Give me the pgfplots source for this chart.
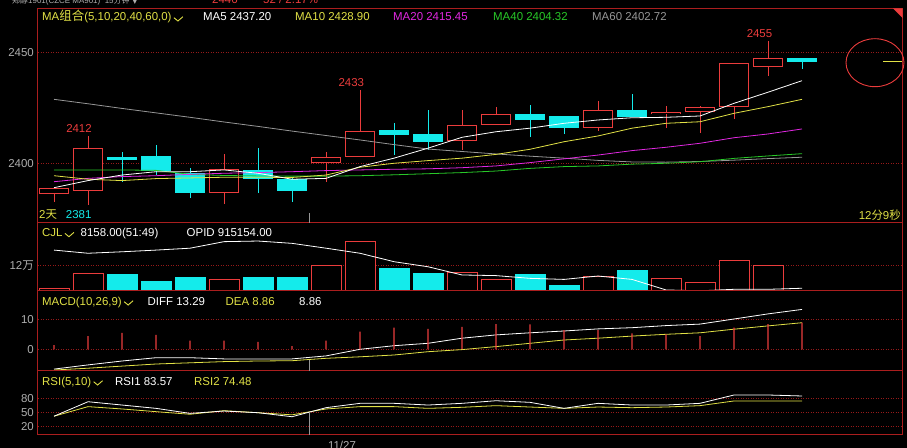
\documentclass[border=0pt]{standalone}
\usepackage{pgfplots}
\pgfplotsset{compat=1.18}
\usepackage{pgfplotstable}
\usepackage{fontspec}
\setmainfont{Liberation Sans}
\newfontfamily\cjk{Noto Sans CJK SC}
\newfontfamily\dejavu{DejaVu Sans}

\definecolor{cred}{RGB}{235,60,60}
\definecolor{ccyan}{RGB}{20,235,235}
\definecolor{cyel}{RGB}{225,225,70}
\definecolor{cmag}{RGB}{225,40,225}
\definecolor{cgrn}{RGB}{40,200,40}
\definecolor{cgray}{RGB}{150,150,150}
\definecolor{frame}{RGB}{170,30,30}
\definecolor{gridred}{RGB}{150,25,25}
\definecolor{ticktxt}{RGB}{175,175,175}

\newcommand\hdr{\fontsize{11.5}{13}\selectfont}
\newcommand\chk{\tikz[baseline=0pt]\draw[line width=0.9bp] (0,3.3bp)--(4bp,0bp)--(9bp,4.3bp);}

% candles as (x, middle, half range): wicks and bodies, rising and falling
\pgfplotstableread{
i m h
1 2385.75 3.05
2 2396.65 15.65
6 2392.75 11.25
9 2398.35 6.65
10 2418.0 15.0
13 2415.0 9.0
14 2421.3 4.2
17 2421.25 6.75
19 2421.0 5.0
20 2419.9 6.1
21 2432.4 12.6
22 2447.15 7.85
}\upwick
\pgfplotstableread{
i m h
1 2387.4 1.4
2 2397.2 9.5
6 2392.05 5.25
9 2401.5 1.5
10 2408.85 5.85
13 2413.5 3.6
14 2419.55 2.45
17 2419.95 3.95
19 2422.5 0.5
20 2424.1 1.1
21 2435.1 9.9
22 2445.35 2.15
}\upbody
\pgfplotstableread{
i m h
3 2398.45 6.75
4 2401.45 6.75
5 2391.1 6.6
7 2396.8 10.0
8 2388.2 5.5
11 2410.85 7.15
12 2415.0 9.0
15 2419.15 7.15
16 2417.15 4.15
18 2426.1 5.1
23 2444.9 2.6
}\dnwick
\pgfplotstableread{
i m h
3 2402.3 0.7
4 2399.9 3.4
5 2391.15 4.35
7 2394.9 2.1
8 2390.3 2.6
11 2413.9 1.0
12 2411.45 1.75
15 2420.85 1.35
16 2418.65 2.65
18 2422.45 1.45
23 2446.65 0.85
}\dnbody

% moving averages
\pgfplotstableread{
i ma5 ma10 ma20 ma40 ma60
1 2389.0 2394.4 2391.7 2397.0 2428.8
2 2392.2 2392.8 2393.2 2397.0 2426.8
3 2394.7 2392.2 2394.0 2397.0 2424.7
4 2396.2 2393.1 2394.4 2396.8 2422.7
5 2396.2 2393.4 2395.0 2395.0 2420.7
6 2397.0 2393.7 2395.5 2394.5 2418.6
7 2395.5 2393.7 2395.8 2394.3 2416.6
8 2392.8 2393.6 2396.2 2394.2 2414.5
9 2393.2 2394.7 2396.7 2394.2 2412.5
10 2398.5 2398.2 2397.0 2394.4 2410.5
11 2402.3 2400.0 2397.3 2394.8 2408.4
12 2406.8 2401.2 2397.5 2395.3 2406.4
13 2411.7 2402.3 2398.0 2395.8 2405.3
14 2414.2 2404.0 2398.8 2396.5 2404.2
15 2415.8 2406.3 2400.3 2397.7 2403.2
16 2418.0 2409.7 2402.0 2398.5 2402.3
17 2419.5 2412.3 2403.7 2398.8 2401.3
18 2420.5 2415.8 2405.7 2399.6 2400.6
19 2420.7 2418.0 2407.2 2400.0 2400.5
20 2421.3 2418.7 2409.0 2400.7 2400.8
21 2427.0 2422.5 2411.5 2402.2 2401.4
22 2432.0 2425.5 2413.2 2403.3 2402.1
23 2437.2 2428.8 2415.45 2404.32 2402.72
}\matab

% lower panels: open interest line, MACD, RSI
\pgfplotstableread{
i opid macd diff dea rsi1 rsi2
1 19.4 1.4 -6.6 -6.9 42.2 42.2
2 17.9 4.4 -5.2 -6.3 72.8 62.4
3 18.6 5.5 -3.9 -5.6 65.8 57.5
4 19.4 4.8 -2.8 -4.9 58.8 51.8
5 20.3 2.9 -2.8 -4.5 48.2 46.3
6 23.4 2.9 -3.2 -4.1 53.1 53.9
7 23.7 2.5 -3.2 -3.9 49.6 49.6
8 22.6 1.1 -3.2 -3.8 41.1 45.1
9 20.3 2.9 -2.2 -3.0 60.2 57.5
10 17.9 5.9 0.0 -2.5 69.4 62.4
11 13.9 7.2 1.2 -1.9 69.4 62.4
12 11.5 6.8 2.0 -0.8 65.8 58.8
13 7.6 7.5 3.7 -0.1 69.4 61.0
14 7.3 8.4 4.8 0.9 74.9 64.5
15 6.0 8.3 5.5 2.0 71.5 61.6
16 5.5 6.4 6.1 3.1 58.8 58.8
17 7.1 6.4 6.8 3.7 69.4 61.6
18 5.5 5.3 7.2 4.4 65.8 60.2
19 0.5 5.0 7.9 5.0 65.8 61.6
20 0.1 4.4 8.4 5.5 69.4 64.5
21 0.8 7.2 10.1 6.7 87.0 74.4
22 0.8 8.4 11.8 7.8 87.0 74.4
23 1.3 8.86 13.29 8.86 84.9 74.48
}\lowtab

\pgfplotsset{
  panel/.style={anchor=south west, scale only axis, width=864bp,
    xmin=0.529, xmax=25.941, xtick=\empty,
    axis line style={draw=none}, major tick length=0pt,
    ymajorgrids, grid style={gridred, dash pattern=on 1bp off 1.5bp, line width=0.6bp},
    yticklabel style={font=\hdr, text=ticktxt, inner sep=0pt, xshift=-4bp},
    /pgf/number format/assume math mode=true,
    /pgf/number format/1000 sep={}},
  bars/.style={only marks, mark=text, text mark={},
    error bars/.cd, y dir=both, y explicit,
    error mark=none, error bar style={line cap=butt, solid, #1}},
  upc/.style={draw=cred, fill=black, line width=1bp, solid},
  dnc/.style={draw=ccyan, fill=ccyan, line width=1bp, solid},
}

\begin{document}
\begin{tikzpicture}
\useasboundingbox (0,0) rectangle (907bp,448bp);
\fill[black] (0,0) rectangle (907bp,448bp);
\clip (0,0) rectangle (907bp,448bp);

% price panel
\begin{axis}[panel, at={(38bp,225bp)}, height=214.7bp,
  ymin=2373.1, ymax=2469.8, ytick={2400,2450}]
\addplot[bars={cred, line width=1bp}] table[x=i, y=m, y error=h] {\upwick};
\addplot[bars={ccyan, line width=1bp}] table[x=i, y=m, y error=h] {\dnwick};
\addplot[bars={cred, line width=30bp}] table[x=i, y=m, y error=h] {\upbody};
\addplot[bars={black, line width=28bp}] table[x=i, y=m, y error expr=\thisrow{h}-0.45] {\upbody};
\addplot[bars={ccyan, line width=30bp}] table[x=i, y=m, y error=h] {\dnbody};
\addplot[cgray, line width=0.8bp] table[x=i, y=ma60] {\matab};
\addplot[cgrn, line width=0.8bp] table[x=i, y=ma40] {\matab};
\addplot[cmag, line width=0.8bp] table[x=i, y=ma20] {\matab};
\addplot[cyel, line width=0.8bp] table[x=i, y=ma10] {\matab};
\addplot[white, line width=0.8bp] table[x=i, y=ma5] {\matab};
\end{axis}

% volume panel (CJL, in 10k)
\begin{axis}[panel, at={(38bp,157bp)}, height=68bp,
  ymin=0, ymax=32.25, ytick={12}, yticklabels={{12{\cjk 万}}}]
\addplot[ybar, bar width=30bp, bar shift=0pt, upc] coordinates {
  (1,1.28) (2,8.4) (6,5.5) (9,12.2) (10,23.6) (13,8.9) (14,5.5)
  (17,6.8) (19,6.0) (20,4.1) (21,14.6) (22,11.9)};
\addplot[ybar, bar width=30bp, bar shift=0pt, dnc] coordinates {
  (3,7.6) (4,4.3) (5,6.2) (7,6.2) (8,6.6) (11,10.8) (12,8.1)
  (15,7.6) (16,2.8) (18,9.5)};
\addplot[ybar, bar width=30bp, bar shift=0pt, draw=cgray, fill=cgray] coordinates {(23,0.5)};
\addplot[white, line width=0.8bp] table[x=i, y=opid] {\lowtab};
\end{axis}

% MACD panel
\begin{axis}[panel, at={(38bp,77bp)}, height=80bp,
  ymin=-7.23, ymax=19.43, ytick={0,10}]
\addplot[white, line width=0.8bp] table[x=i, y=diff] {\lowtab};
\addplot[cyel, line width=0.8bp] table[x=i, y=dea] {\lowtab};
\addplot[ybar, bar width=1.2bp, bar shift=0pt, draw=none, fill=cred] table[x=i, y=macd] {\lowtab};
\end{axis}

% RSI panel
\begin{axis}[panel, at={(38bp,13bp)}, height=64bp,
  ymin=2.5, ymax=137.7, ytick={20,50,80}]
\addplot[cyel, line width=0.8bp] table[x=i, y=rsi2] {\lowtab};
\addplot[white, line width=0.8bp] table[x=i, y=rsi1] {\lowtab};
\end{axis}

\begin{scope}[x=1bp, y=1bp]
% frames
\begin{scope}[frame, line width=1bp]
\draw (37.5,13) rectangle (902.5,439.7);
\draw (37.5,225) -- (902.5,225);
\draw (37.5,157) -- (902.5,157);
\draw (37.5,77) -- (902.5,77);
\end{scope}
\fill[cred] (893,439.7) -- (902.5,439.7) -- (902.5,430) -- cycle;
\draw[cgray, line width=0.8bp] (309.5,225) -- (309.5,235);
\draw[cgray, line width=0.8bp] (309.5,77) -- (309.5,88);
\draw[cgray, line width=0.8bp] (309.5,13) -- (309.5,36);
\draw[cred, line width=0.9bp] (875,385.3) ellipse [x radius=29bp, y radius=24bp];
\draw[cyel, line width=0.8bp] (883,386.3) -- (902,386.3);

% cut title line
\node[anchor=base west, inner sep=0pt, text=ticktxt, font=\fontsize{8}{9}\selectfont] at (12,444.5)
  {{\cjk 郑醇}1901(CZCE MA901)\ \ 15{\cjk 分钟} {\dejavu ▼}};
\node[anchor=base west, inner sep=0pt, text=cred, font=\hdr] at (212,444.5) {2446};
\node[anchor=base west, inner sep=0pt, text=cred, font=\hdr] at (263,444.5) {52 / 2.17\%};

% headers
\begin{scope}[every node/.style={anchor=base west, inner sep=0pt, font=\hdr}]
\node[text=cyel] at (42,427) {MA{\cjk\fontsize{12.5}{13}\selectfont 组合}(5,10,20,40,60,0)\,\chk};
\node[text=white] at (203,427) {MA5 2437.20};
\node[text=cyel] at (295,427) {MA10 2428.90};
\node[text=cmag] at (393,427) {MA20 2415.45};
\node[text=cgrn] at (493,427) {MA40 2404.32};
\node[text=cgray] at (592,427) {MA60 2402.72};

\node[text=cyel] at (42,211.3) {CJL\,\chk};
\node[text=white] at (80.5,211.3) {8158.00(51:49)};
\node[text=white] at (186.5,211.3) {OPID 915154.00};

\node[text=cyel] at (42,143) {MACD(10,26,9)\,\chk};
\node[text=white] at (147.5,143) {DIFF 13.29};
\node[text=cyel] at (225.5,143) {DEA 8.86};
\node[text=white] at (299,143) {8.86};

\node[text=cyel] at (42,63) {RSI(5,10)\,\chk};
\node[text=white] at (115,63) {RSI1 83.57};
\node[text=cyel] at (194,63) {RSI2 74.48};

\node[text=cyel] at (39,229.7) {2{\cjk 天}};
\node[text=ccyan] at (65.7,229.7) {2381};
\node[text=cyel, anchor=base east] at (901,228.7) {12{\cjk 分}9{\cjk 秒}};
\end{scope}

% extreme price labels
\begin{scope}[every node/.style={anchor=base, inner sep=0pt, font=\hdr, text=cred}]
\node at (79,315.3) {2412};
\node at (351.3,362) {2433};
\node at (759.5,410.7) {2455};
\end{scope}
\node[anchor=north, inner sep=0pt, font=\hdr, text=ticktxt] at (342,7.3) {11/27};
\end{scope}
\end{tikzpicture}
\end{document}
